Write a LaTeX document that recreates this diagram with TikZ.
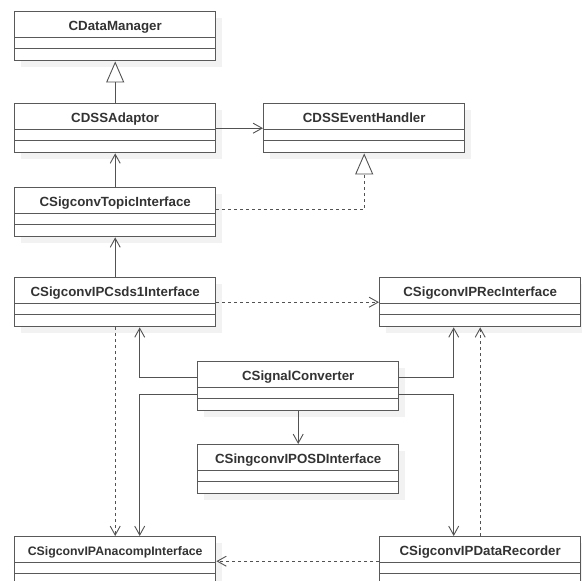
\documentclass[tikz,border=0pt]{standalone}
\usepackage{fontspec}
\setmainfont{Liberation Sans}
\usetikzlibrary{arrows.meta}
\usetikzlibrary{shadows}

\tikzset{
  umlclass/.style={draw=black!65, line width=1.4pt, fill=white, anchor=north west,
    minimum width=201pt, inner xsep=2pt, inner ysep=0pt,
    text height=18.5pt, text depth=30.5pt, text=black!80,
    font=\fontsize{13.3}{15}\selectfont\bfseries,
    drop shadow={shadow xshift=6pt, shadow yshift=-6pt, fill=black!5, opacity=1},
    path picture={
      \draw[black!65, line width=1.4pt]
        ([yshift=-26pt]path picture bounding box.north west) -- ([yshift=-26pt]path picture bounding box.north east)
        ([yshift=-37pt]path picture bounding box.north west) -- ([yshift=-37pt]path picture bounding box.north east);
    }},
  assoc/.style={draw=black!68, line width=0.9pt, -{Straight Barb[length=9pt,width=10pt]}},
  dep/.style={assoc, dash pattern=on 3pt off 3pt},
  inherit/.style={draw=black!68, line width=0.9pt, -{Triangle[length=21pt,width=18pt,fill=white]}},
  realize/.style={inherit, dash pattern=on 3pt off 3pt}
}

\begin{document}
\begin{tikzpicture}[x=1pt,y=-1pt]
  \useasboundingbox (0,0) rectangle (582,581);

  % Classes
  \node[umlclass] (dm) at (14,11) {CDataManager};
  \node[umlclass] (adaptor) at (14,103) {CDSSAdaptor};
  \node[umlclass] (handler) at (263,103) {CDSSEventHandler};
  \node[umlclass] (topic) at (14,187) {CSigconvTopicInterface};
  \node[umlclass] (csds) at (14,277) {CSigconvIPCsds1Interface};
  \node[umlclass] (rec) at (379,277) {CSigconvIPRecInterface};
  \node[umlclass] (conv) at (197,361) {CSignalConverter};
  \node[umlclass] (osd) at (197,444) {CSingconvIPOSDInterface};
  \node[umlclass, font=\fontsize{12.3}{14}\selectfont\bfseries] (ana) at (14,536) {CSigconvIPAnacompInterface};
  \node[umlclass] (recorder) at (379,536) {CSigconvIPDataRecorder};

  % Upper chain
  \draw[inherit] (adaptor.north) -- (dm.south);
  \draw[assoc] (adaptor.east) -- (handler.west);
  \draw[assoc] (topic.north) -- (adaptor.south);
  \draw[realize] ([yshift=2.5pt]topic.east) -| (handler.south);
  \draw[assoc] (csds.north) -- (topic.south);

  % Interfaces
  \draw[dep] (csds.east) -- (rec.west);
  \draw[dep] (csds.south) -- (ana.north);
  \draw[dep] (recorder.north) -- (rec.south);
  \draw[dep] (recorder.west) -- (ana.east);

  % Signal converter
  \draw[assoc] ([yshift=8.5pt]conv.west) -| ([xshift=24.5pt]csds.south);
  \draw[assoc] ([yshift=-8.5pt]conv.west) -| ([xshift=24.5pt]ana.north);
  \draw[assoc] ([yshift=8.5pt]conv.east) -| ([xshift=-26.5pt]rec.south);
  \draw[assoc] ([yshift=-8.5pt]conv.east) -| ([xshift=-26.5pt]recorder.north);
  \draw[assoc] (conv.south) -- (osd.north);
\end{tikzpicture}
\end{document}
